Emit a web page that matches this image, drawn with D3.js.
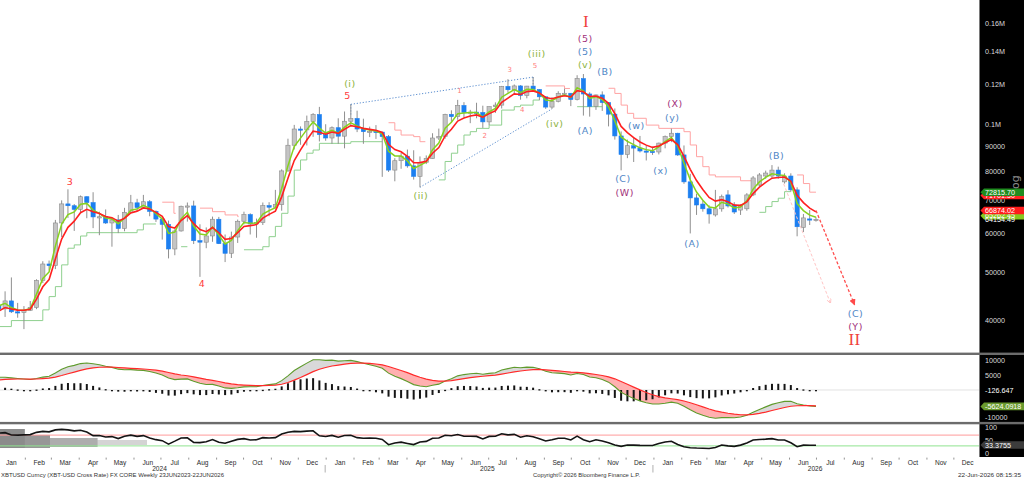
<!DOCTYPE html>
<html>
<head>
<meta charset="utf-8">
<title>XBTUSD Weekly</title>
<script src="https://cdn.jsdelivr.net/npm/d3@7/dist/d3.min.js"></script>
<style>
  html, body { margin:0; padding:0; background:#ffffff; overflow:hidden; }
  svg { display:block; }
</style>
</head>
<body>
<svg id="chart" width="1024" height="479"></svg>
<script>
// ================= DATA =================
// weekly candles: [week date (Fri), open, high, low, close]
const candles2023 = [
  ["2023-12-29",43000,43800,41500,42300]
];
const candles2024 = [
  ["2024-01-05",42300,45900,40750,43900],["2024-01-12",43900,48970,41500,41730],
  ["2024-01-19",41730,43500,40600,41580],["2024-01-26",41580,42850,38500,42030],
  ["2024-02-02",42030,43880,41880,42580],["2024-02-09",42580,48550,42250,48300],
  ["2024-02-16",48300,52800,47700,52130],["2024-02-23",52130,52980,50600,51730],
  ["2024-03-01",51730,64000,50900,63100],["2024-03-08",63100,70100,59100,68950],
  ["2024-03-15",68950,73800,64600,68370],["2024-03-22",68370,68900,60800,67230],
  ["2024-03-29",67230,71700,66400,71300],["2024-04-05",71300,71400,64500,69360],
  ["2024-04-12",69360,72800,61600,64900],["2024-04-19",64900,66500,59600,64950],
  ["2024-04-26",64950,67200,62800,63100],["2024-05-03",63100,64700,56500,64000],
  ["2024-05-10",64000,65500,60200,61500],["2024-05-17",61500,67700,60700,66300],
  ["2024-05-24",66300,71900,66100,69300],["2024-05-31",69300,70600,66700,67800],
  ["2024-06-07",67800,71900,67600,69650],["2024-06-14",69650,70200,65100,66600],
  ["2024-06-21",66600,66900,63400,64250],["2024-06-28",64250,64500,58400,62700],
  ["2024-07-05",62700,63800,53500,55900],["2024-07-12",55900,61300,54300,60800],
  ["2024-07-19",60800,68400,60600,68200],["2024-07-26",68200,69400,63500,68300],
  ["2024-08-02",68300,70000,57200,58100],["2024-08-09",58100,62700,49100,57700],
  ["2024-08-16",57700,61800,56100,59400],["2024-08-23",59400,65000,57800,64200],
  ["2024-08-30",64200,64900,57200,57300],["2024-09-06",57300,59800,52600,54800],
  ["2024-09-13",54800,60600,53600,59100],["2024-09-20",59100,64100,57500,63600],
  ["2024-09-27",63600,66500,62700,65600],["2024-10-04",65600,66000,59800,62800],
  ["2024-10-11",62800,64400,58900,63200],["2024-10-18",63200,69400,62500,68400],
  ["2024-10-25",68400,69500,65100,67900],["2024-11-01",67900,73600,67500,68700],
  ["2024-11-08",68700,81000,66800,80400],["2024-11-15",80400,93400,80100,90600],
  ["2024-11-22",90600,99600,88800,97700],["2024-11-29",97700,98900,90800,97300],
  ["2024-12-06",97300,104000,90500,101200],["2024-12-13",101200,105200,94200,104500],
  ["2024-12-20",104500,108300,92200,95200],["2024-12-27",95200,99900,92500,93700]
];
const candles2025 = [
  ["2025-01-03",93700,98900,91200,98300],["2025-01-10",98300,102700,91200,94500],
  ["2025-01-17",94500,106000,89300,101300],["2025-01-24",101300,109600,99500,102600],
  ["2025-01-31",102600,106400,96300,97700],["2025-02-07",97700,102500,91200,96500],
  ["2025-02-14",96500,98800,94100,96600],["2025-02-21",96600,99500,93300,96300],
  ["2025-02-28",96300,96500,78200,94300],["2025-03-07",94300,95000,80000,80700],
  ["2025-03-14",80700,85300,76600,84300],["2025-03-21",84300,87400,81200,86100],
  ["2025-03-28",86100,88800,81600,82300],["2025-04-04",82300,88500,77200,78400],
  ["2025-04-11",78400,86000,74500,83700],["2025-04-18",83700,86400,83000,85100],
  ["2025-04-25",85100,95800,85100,93700],["2025-05-02",93700,97900,92800,94300],
  ["2025-05-09",94300,104900,93400,104600],["2025-05-16",104600,106600,100800,103500],
  ["2025-05-23",103500,111900,102000,109000],["2025-05-30",109000,110700,103100,105600],
  ["2025-06-06",105600,106800,100400,105700],["2025-06-13",105700,110400,102700,105500],
  ["2025-06-20",105500,108900,98200,101000],["2025-06-27",101000,108500,99500,108400],
  ["2025-07-04",108400,110600,105300,109200],["2025-07-11",109200,119400,107500,119100],
  ["2025-07-18",119100,123200,115700,117300],["2025-07-25",117300,120200,114700,119400],
  ["2025-08-01",119400,119800,112000,114200],["2025-08-08",114200,119400,112700,119300],
  ["2025-08-15",119300,124400,116800,117400],["2025-08-22",117400,117600,111700,113500],
  ["2025-08-29",113500,113600,107300,108200],["2025-09-05",108200,113300,107300,111100],
  ["2025-09-12",111100,116500,110600,115300],["2025-09-19",115300,117900,114400,115400],
  ["2025-09-26",115400,115500,108700,112100],["2025-10-03",112100,125500,111600,123500],
  ["2025-10-10",123500,126200,104000,115000],["2025-10-17",115000,115900,103500,108600],
  ["2025-10-24",108600,114700,106800,114500],["2025-10-31",114500,116400,106300,110500],
  ["2025-11-07",110500,110600,98900,104700],["2025-11-14",104700,107500,93000,94600],
  ["2025-11-21",94600,96600,80600,86800],["2025-11-28",86800,93000,85300,90400],
  ["2025-12-05",90400,94100,83800,89400],["2025-12-12",89400,94600,87600,88200],
  ["2025-12-19",88200,90400,84400,88000],["2025-12-26",88000,90000,86600,87800]
];
const candles2026 = [
  ["2026-01-02",87800,91700,86800,91500],["2026-01-09",91500,94800,89300,94300],
  ["2026-01-16",94300,97900,91900,95800],["2026-01-23",95800,96000,86200,86600],
  ["2026-01-30",86600,90500,75700,76400],["2026-02-06",76400,79300,60100,70900],
  ["2026-02-13",70900,72300,65500,68600],["2026-02-20",68900,70000,66500,67400],
  ["2026-02-27",67400,68500,62900,65800],["2026-03-06",65500,73600,65000,67400],
  ["2026-03-13",67400,72000,66500,71300],["2026-03-20",71900,73500,67800,68300],
  ["2026-03-27",68600,69500,65800,66400],["2026-04-03",67000,68800,65500,68300],
  ["2026-04-10",67400,72500,66800,71900],["2026-04-17",71900,78500,71500,77800],
  ["2026-04-24",75300,79600,74800,78900],["2026-05-01",78500,80500,77500,79600],
  ["2026-05-08",78500,82600,77800,80700],["2026-05-15",80700,82000,77500,78500],
  ["2026-05-22",76400,79500,75800,78500],["2026-05-29",78500,79500,73000,73600],
  ["2026-06-05",73600,74500,59300,62000],["2026-06-12",61800,65800,60500,64600],
  ["2026-06-19",64300,67000,62500,64000],["2026-06-26",64000,64800,63500,64154.49]
];

// indicator starting values read at the left edge of the picture
const maSeeds   = { fast: 42900, slow: 41900 };              // green / red moving averages
const macdSeeds = { ema12: 39600, ema26: 35250, signal: 3420 };
const rsiSeeds  = { avgGain: 1800, avgLoss: 530 };
const maPeriods = { fast: 3, slow: 5 };
const macdPeriods = { fast: 12, slow: 26, signal: 9 };
const rsiPeriod = 9;

// stepped trailing lines: [date, level]
const supportRuns = [
  [["2023-12-29",38960],["2024-01-12",40060],["2024-02-16",42110],["2024-02-23",44790],["2024-03-01",46920],
   ["2024-03-08",51920],["2024-03-15",56100],["2024-03-22",56980],["2024-03-29",59380],["2024-04-05",60310],
   ["2024-05-31",61100],["2024-06-07",62800],["2024-06-21",62800]],
  [["2024-07-19",56500],["2024-07-26",56500]],
  [["2024-09-27",55700],["2024-10-18",56500],["2024-10-25",59200],["2024-11-01",62100],["2024-11-08",66000],
   ["2024-11-15",71500],["2024-11-22",80700],["2024-11-29",84600],["2024-12-06",87300],["2024-12-13",88600],
   ["2024-12-20",91400],["2025-01-24",92100],["2025-02-28",92100]],
  [["2025-05-02",77100],["2025-05-09",84000],["2025-05-16",87300],["2025-05-23",90700],["2025-05-30",95000],
   ["2025-06-06",96500],["2025-06-13",98000],["2025-06-27",99500],["2025-07-11",106700],["2025-07-25",108400],
   ["2025-08-01",109200],["2025-08-15",111800],["2025-08-22",111800]],
  [["2025-10-03",108400],["2025-10-31",108400]],
  [["2026-04-24",66300],["2026-05-01",68100],["2026-05-08",69700],["2026-05-15",70800],["2026-05-22",73000],["2026-05-29",73000]]
];
const resistanceRuns = [
  [["2024-06-28",69500],["2024-07-11",66000],["2024-07-13",66000]],
  [["2024-08-09",67600],["2024-08-23",66500],["2024-09-06",65500],["2024-09-20",65000],["2024-09-21",65000]],
  [["2025-03-07",100600],["2025-03-14",97200],["2025-03-21",95000],["2025-04-04",94300],["2025-04-11",92100],["2025-04-17",92100]],
  [["2025-08-29",119400],["2025-09-19",118000],["2025-09-25",118000]],
  [["2025-11-07",118100],["2025-11-14",115300],["2025-11-21",109200],["2025-11-28",105100],["2025-12-05",102700],
   ["2025-12-19",99500],["2026-01-02",98000],["2026-01-30",96500],["2026-02-06",90700],["2026-02-13",85900],
   ["2026-02-20",82000],["2026-02-27",78900],["2026-03-06",78200],["2026-04-03",76800],["2026-04-17",76800]],
  [["2026-06-05",78900],["2026-06-12",75800],["2026-06-19",72815.7],["2026-06-26",72815.7]]
];

// Elliott wave annotations: [text, date, price, style]
const waveLabels = [
  ["3","2024-03-17",76700,"num"],["4","2024-08-11",47520,"num"],["5","2025-01-20",114400,"num"],
  ["(i)","2025-01-23",121000,"olive"],["(ii)","2025-04-12",71570,"olive"],
  ["1","2025-05-25",116600,"sub"],["2","2025-06-22",94570,"sub"],["3","2025-07-20",128500,"sub"],
  ["4","2025-08-03",106700,"sub"],["5","2025-08-17",131000,"sub"],
  ["(iii)","2025-08-19",139100,"olive"],["(iv)","2025-09-08",100470,"olive"],["(v)","2025-10-12",132200,"olive"],
  ["(5)","2025-10-12",140400,"blue"],["(5)","2025-10-12",149200,"purple"],["I","2025-10-13",161500,"roman"],
  ["(B)","2025-11-03",127400,"blue"],["(A)","2025-10-12",97250,"blue"],
  ["(C)","2025-11-23",77450,"blue"],["(W)","2025-11-25",72740,"purple"],
  ["(w)","2025-12-08",99540,"blue"],["(x)","2026-01-04",80370,"blue"],["(y)","2026-01-17",103070,"blue"],
  ["(X)","2026-01-20",110270,"purple"],["(A)","2026-02-08",57250,"blue"],["(B)","2026-05-13",86190,"blue"],
  ["(C)","2026-08-09",41340,"blue"],["(Y)","2026-08-09",38910,"purple"],["II","2026-08-08",36620,"roman"]
];
// drawn lines: wedge and projections
const wedgeUpper = [["2025-01-24",109600],["2025-08-15",124400]];
const wedgeStubs = [[["2025-01-24",109600],["2025-01-24",104300]],[["2025-08-15",124400],["2025-08-15",118200]]];
const wedgeLower = [["2025-04-11",74500],["2025-09-05",107300]];
const projectionMain = [["2026-06-26",66874],["2026-08-08",43100]];
const projectionAlt  = [["2026-05-21",75700],["2026-07-12",43500]];

// RSI panel background bands: [rsi top, rsi bottom, end date, colour]
const rsiBands = [[51.9,33.3,"2024-06-11","#d4d4d4"],[59.3,25.9,"2024-04-17","#adadad"],
                  [70.4,22.2,"2024-02-24","#979797"],[92.6,22.2,"2024-01-27","#8b8b8b"]];

// axis ticks and labels
const priceTicks = [160000,140000,120000,100000,90000,80000,70000,60000,50000,40000];
const priceTickLabels = ["0.16M","0.14M","0.12M","0.1M","90000","80000","70000","60000","50000","40000"];
const macdTicks = [10000,5000,-10000];
const macdTickLabels = ["10000","5000","-10000"];
const rsiTicks = [100,50,0];
const rsiTickLabels = ["100","50","0"];
const rsiLevels = [70,30];
const monthNames = ["Jan","Feb","Mar","Apr","May","Jun","Jul","Aug","Sep","Oct","Nov","Dec"];
const yearLabels = ["2024","2025","2026"];
// last-value tags on the right axis: [text, value, background]
const priceTags = [["71701.50",71701.5,"#ff2222"],["72815.70",72815.7,"#1f8c1f"],
                   ["65262.45",65262.45,"#86c81e"],["66874.02",66874.02,"#ff1c1c"],["64154.49",64154.49,null]];
const macdTags = [["-126.647",-126.647,null],["-5624.0918",-5624.0918,"#6a9a2e"]];
const rsiTags = [["33.3755",33.3755,"#3c3c3c"]];
const footerLeft = "XBTUSD Curncy (XBT-USD Cross Rate) FX CORE Weekly 23JUN2023-22JUN2026";
const footerMid = "Copyright\u00A9 2026 Bloomberg Finance L.P.";
const footerRight = "22-Jun-2026 08:15:35";

// ================= CHART =================
const svg = d3.select("#chart");
const PLOT_R = 979;
const parse = d3.utcParse("%Y-%m-%d");
const x = d3.scaleUtc().domain([parse("2024-01-01"), parse("2027-01-01")]).range([1.5, 985.7]);
const y = d3.scaleLog().domain([34450, 178100]).range([353, 0]);
const ym = d3.scaleLinear().domain([-10959, 11986]).range([422, 355]);
const yr = d3.scaleLinear().domain([-11.1, 111.1]).range([457, 424]);

const rows = [...candles2023, ...candles2024, ...candles2025, ...candles2026]
  .map(r => ({date: parse(r[0]), o: r[1], h: r[2], l: r[3], c: r[4]}));
const closes = rows.map(d => d.c);

function emaSeries(vals, n, seed) {
  const a = 2 / (n + 1), out = [seed];
  for (let i = 1; i < vals.length; i++) out.push(out[i-1] + a * (vals[i] - out[i-1]));
  return out;
}
const maFast = emaSeries(closes, maPeriods.fast, maSeeds.fast);
const maSlow = emaSeries(closes, maPeriods.slow, maSeeds.slow);
const e12 = emaSeries(closes, macdPeriods.fast, macdSeeds.ema12);
const e26 = emaSeries(closes, macdPeriods.slow, macdSeeds.ema26);
const macd = e12.map((v, i) => v - e26[i]);
const signal = emaSeries(macd, macdPeriods.signal, macdSeeds.signal);
const rsi = (() => {
  let ag = rsiSeeds.avgGain, al = rsiSeeds.avgLoss; const out = [100 - 100 / (1 + ag / al)];
  for (let i = 1; i < closes.length; i++) {
    const ch = closes[i] - closes[i-1];
    ag = (ag * (rsiPeriod - 1) + Math.max(ch, 0)) / rsiPeriod;
    al = (al * (rsiPeriod - 1) + Math.max(-ch, 0)) / rsiPeriod;
    out.push(100 - 100 / (1 + ag / al));
  }
  return out;
})();
const ind = rows.map((d, i) => ({date: d.date, f: maFast[i], s: maSlow[i], m: macd[i], sig: signal[i], h: macd[i] - signal[i], r: rsi[i]}));

// defs
const defs = svg.append("defs");
defs.append("clipPath").attr("id","clipMain").append("rect").attr("x",0).attr("y",0).attr("width",PLOT_R).attr("height",352.5);
defs.append("clipPath").attr("id","clipMacd").append("rect").attr("x",0).attr("y",355).attr("width",PLOT_R).attr("height",67);
defs.append("clipPath").attr("id","clipRsi").append("rect").attr("x",0).attr("y",424.3).attr("width",PLOT_R).attr("height",32.7);
defs.append("marker").attr("id","arrRed").attr("viewBox","0 0 10 10").attr("refX",9).attr("refY",5)
  .attr("markerWidth",5).attr("markerHeight",5).attr("orient","auto")
  .append("path").attr("d","M0,0 L10,5 L0,10 z").attr("fill","#ff4a4a");
defs.append("marker").attr("id","arrPink").attr("viewBox","0 0 10 10").attr("refX",9).attr("refY",5)
  .attr("markerWidth",5).attr("markerHeight",5).attr("orient","auto")
  .append("path").attr("d","M0,0 L10,5 L0,10").attr("fill","none").attr("stroke","#ffbcbc").attr("stroke-width",1.5);

svg.append("rect").attr("width",1024).attr("height",479).attr("fill","#ffffff");

// ---------- main price panel ----------
const gMain = svg.append("g").attr("clip-path","url(#clipMain)");
const stepLine = d3.line().x(d => x(parse(d[0]))).y(d => y(d[1])).curve(d3.curveStepAfter);
supportRuns.forEach(run => gMain.append("path").attr("d", stepLine(run)).attr("fill","none").attr("stroke","#8fd08f").attr("stroke-width",1));
resistanceRuns.forEach(run => gMain.append("path").attr("d", stepLine(run)).attr("fill","none").attr("stroke","#ffa3a3").attr("stroke-width",1));

const ptLine = d3.line().x(d => x(parse(d[0]))).y(d => y(d[1]));
const dotted = {stroke:"#5b8ed0", w:1, dash:"1.2,1.8"};
[wedgeUpper, wedgeLower, ...wedgeStubs].forEach(seg =>
  gMain.append("path").attr("d", ptLine(seg)).attr("fill","none").attr("stroke",dotted.stroke)
    .attr("stroke-width",dotted.w).attr("stroke-dasharray",dotted.dash));

// candles
const bw = 4.2;
const gC = gMain.append("g");
gC.selectAll("line.wick").data(rows).join("line").attr("class","wick")
  .attr("x1", d => x(d.date)).attr("x2", d => x(d.date))
  .attr("y1", d => y(d.h)).attr("y2", d => y(d.l))
  .attr("stroke","#8f8f8f").attr("stroke-width",1);
gC.selectAll("rect.body").data(rows).join("rect").attr("class","body")
  .attr("x", d => x(d.date) - bw/2).attr("width", bw)
  .attr("y", d => y(Math.max(d.o, d.c)))
  .attr("height", d => Math.max(1.2, Math.abs(y(d.o) - y(d.c))))
  .attr("fill", d => d.c >= d.o ? "#c4c4c4" : "#1c7ff0")
  .attr("stroke", d => d.c >= d.o ? "#8a8a8a" : "#1c7ff0")
  .attr("stroke-width", 0.6);

// moving averages
const maLine = key => d3.line().x(d => x(d.date)).y(d => y(d[key])).curve(d3.curveLinear);
gMain.append("path").attr("d", maLine("f")(ind)).attr("fill","none").attr("stroke","#86d21e").attr("stroke-width",1.5);
gMain.append("path").attr("d", maLine("s")(ind)).attr("fill","none").attr("stroke","#ff2020").attr("stroke-width",1.6);

// projections
gMain.append("path").attr("d", ptLine(projectionAlt)).attr("fill","none").attr("stroke","#ffc4c4")
  .attr("stroke-width",1).attr("stroke-dasharray","3,2").attr("marker-end","url(#arrPink)");
gMain.append("path").attr("d", ptLine(projectionMain)).attr("fill","none").attr("stroke","#ff4d4d")
  .attr("stroke-width",1.3).attr("stroke-dasharray","3,2").attr("marker-end","url(#arrRed)");

// wave labels
const labelStyle = {
  num:    {fill:"#ff3b3b", size:9.5, font:"DejaVu Sans", ls:0},
  sub:    {fill:"#ff7b7b", size:7,   font:"DejaVu Sans", ls:0},
  olive:  {fill:"#8db33b", size:9.5, font:"DejaVu Sans", ls:0.5},
  blue:   {fill:"#4f86c6", size:9.5, font:"DejaVu Sans", ls:0.5},
  purple: {fill:"#a2307a", size:9.5, font:"DejaVu Sans", ls:0.5},
  roman:  {fill:"#f0403c", size:17,  font:"Liberation Serif", ls:0.5}
};
gMain.selectAll("text.wave").data(waveLabels).join("text").attr("class","wave")
  .attr("x", d => x(parse(d[1]))).attr("y", d => y(d[2]))
  .attr("text-anchor","middle").attr("dominant-baseline","central")
  .attr("font-family", d => labelStyle[d[3]].font).attr("font-size", d => labelStyle[d[3]].size)
  .attr("letter-spacing", d => labelStyle[d[3]].ls)
  .attr("fill", d => labelStyle[d[3]].fill).text(d => d[0]);

// ---------- MACD panel ----------
const gM = svg.append("g").attr("clip-path","url(#clipMacd)");
gM.append("line").attr("x1",0).attr("x2",PLOT_R).attr("y1",ym(0)).attr("y2",ym(0)).attr("stroke","#e2e2e2").attr("stroke-width",1);
const aboveSig = d3.area().x(d => x(d.date)).y0(355).y1(d => ym(d.sig));
const belowSig = d3.area().x(d => x(d.date)).y0(422).y1(d => ym(d.sig));
defs.append("clipPath").attr("id","clipAboveSig").append("path").attr("d", aboveSig(ind));
defs.append("clipPath").attr("id","clipBelowSig").append("path").attr("d", belowSig(ind));
const between = d3.area().x(d => x(d.date)).y0(d => ym(d.sig)).y1(d => ym(d.m));
gM.append("g").attr("clip-path","url(#clipAboveSig)").append("path").attr("d", between(ind)).attr("fill","#d9d9d9");
gM.append("g").attr("clip-path","url(#clipBelowSig)").append("path").attr("d", between(ind)).attr("fill","#ffb0b0");
gM.selectAll("rect.hist").data(ind).join("rect").attr("class","hist")
  .attr("x", d => x(d.date) - 1).attr("width", 2)
  .attr("y", d => Math.min(ym(d.h), ym(0)))
  .attr("height", d => Math.max(1.3, Math.abs(ym(d.h) - ym(0))))
  .attr("fill","#161616");
gM.append("path").attr("d", d3.line().x(d => x(d.date)).y(d => ym(d.m))(ind)).attr("fill","none").attr("stroke","#5f9b2c").attr("stroke-width",1.1);
gM.append("path").attr("d", d3.line().x(d => x(d.date)).y(d => ym(d.sig))(ind)).attr("fill","none").attr("stroke","#ff2a2a").attr("stroke-width",1.2);

// ---------- RSI panel ----------
const gR = svg.append("g").attr("clip-path","url(#clipRsi)");
gR.selectAll("rect.band").data(rsiBands).join("rect").attr("class","band")
  .attr("x",0).attr("width", d => x(parse(d[2])))
  .attr("y", d => yr(d[0])).attr("height", d => yr(d[1]) - yr(d[0])).attr("fill", d => d[3]);
const levelColors = ["#ff9a9a","#8fe48f"];
rsiLevels.forEach((lv, i) => gR.append("line").attr("x1",0).attr("x2",PLOT_R).attr("y1",yr(lv)).attr("y2",yr(lv))
  .attr("stroke", levelColors[i]).attr("stroke-width",1));
gR.append("path").attr("d", d3.line().x(d => x(d.date)).y(d => yr(d.r))(ind)).attr("fill","none").attr("stroke","#141414").attr("stroke-width",1.6);

// ---------- right axis panel ----------
svg.append("rect").attr("x",979.5).attr("y",0).attr("width",44.5).attr("height",457).attr("fill","#000000");
svg.append("line").attr("x1",979.5).attr("x2",979.5).attr("y1",0).attr("y2",457).attr("stroke","#7a7a7a").attr("stroke-width",1);
// panel separators
[352.6, 421.9].forEach(yy => svg.append("rect").attr("x",0).attr("y",yy).attr("width",1024).attr("height",2.4).attr("fill","#6c6c6c"));

const axisFont = "Liberation Sans";
const gAx = svg.append("g").attr("font-family",axisFont).attr("font-size",7.2).attr("fill","#dcdcdc");
priceTicks.forEach((v, i) => gAx.append("text").attr("x",985).attr("y",y(v)).attr("dy","0.35em").text(priceTickLabels[i]));
macdTicks.forEach((v, i) => gAx.append("text").attr("x",985).attr("y",Math.min(ym(v), 417)).attr("dy","0.35em").text(macdTickLabels[i]));
rsiTicks.forEach((v, i) => gAx.append("text").attr("x",985).attr("y",Math.min(yr(v), 453.5)).attr("dy","0.35em").text(rsiTickLabels[i]));
svg.append("text").attr("transform","translate(1015,185) rotate(-90)").attr("text-anchor","middle")
  .attr("dominant-baseline","central")
  .attr("font-family","DejaVu Sans").attr("font-size",11).attr("fill","#8a8a8a").text("Log");

function tag(yy, label, bg) {
  if (bg) svg.append("path").attr("d",`M980.5,${yy} L984,${yy-3.8} L1024,${yy-3.8} L1024,${yy+3.8} L984,${yy+3.8} Z`).attr("fill",bg);
  svg.append("text").attr("x",985).attr("y",yy).attr("dy","0.35em").attr("font-family",axisFont)
    .attr("font-size",7.2).attr("fill","#ffffff").text(label);
}
priceTags.forEach(t => tag(y(t[1]), t[0], t[2]));
macdTags.forEach(t => tag(ym(t[1]), t[0], t[2]));
rsiTags.forEach(t => tag(yr(t[1]), t[0], t[2]));

// ---------- time axis ----------
const gX = svg.append("g").attr("font-family",axisFont).attr("font-size",6.6).attr("fill","#2a2a2a");
const months = d3.utcMonth.range(parse("2024-01-01"), parse("2027-01-01"));
months.forEach(m => {
  const lx = x(d3.utcDay.offset(m, 11));
  if (lx < 976) gX.append("text").attr("x",lx).attr("y",464.5).attr("text-anchor","middle").text(monthNames[m.getUTCMonth()]);
  const tx = x(m) - 4;
  if (tx > 2 && tx < 976) gX.append("line").attr("x1",tx).attr("x2",tx).attr("y1",457.6).attr("y2",459.6).attr("stroke","#777").attr("stroke-width",0.8);
});
yearLabels.forEach((yl, i) => {
  const yd = parse(`${yl}-06-25`);
  gX.append("text").attr("x",x(yd)).attr("y",471).attr("text-anchor","middle").text(yl);
  if (i > 0) {
    const sx = x(parse(`${yl}-01-01`)) - 5;
    gX.append("line").attr("x1",sx).attr("x2",sx).attr("y1",465).attr("y2",472.5).attr("stroke","#9a9a9a").attr("stroke-width",0.8);
  }
});
const gF = svg.append("g").attr("font-family",axisFont).attr("font-size",5.6).attr("fill","#333");
gF.append("text").attr("x",1).attr("y",477).attr("textLength",223).attr("lengthAdjust","spacingAndGlyphs").text(footerLeft);
gF.append("text").attr("x",533).attr("y",477).attr("textLength",107).attr("lengthAdjust","spacingAndGlyphs").text(footerMid);
gF.append("text").attr("x",958).attr("y",477).attr("textLength",63).attr("lengthAdjust","spacingAndGlyphs").text(footerRight);
</script>
</body>
</html>
